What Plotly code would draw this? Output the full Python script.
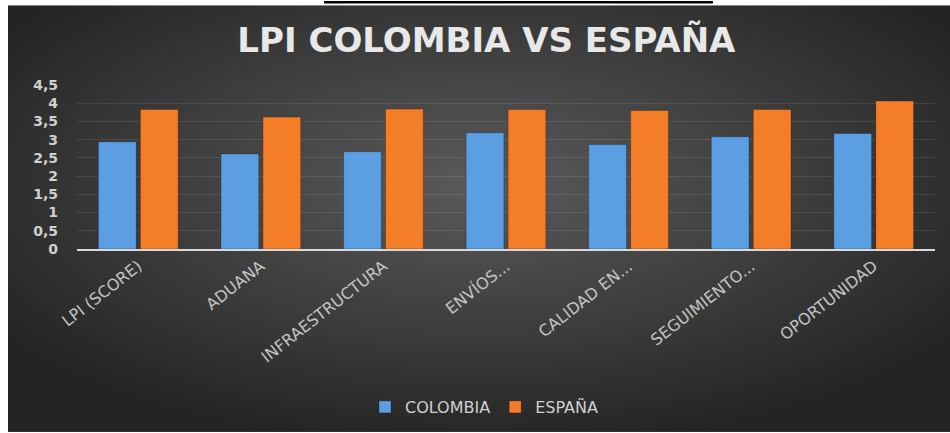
import base64
import plotly.graph_objects as go

categories = ["LPI (SCORE)", "ADUANA", "INFRAESTRUCTURA", "ENVÍOS...",
              "CALIDAD EN...", "SEGUIMIENTO...", "OPORTUNIDAD"]
colombia = [2.94, 2.61, 2.67, 3.19, 2.87, 3.08, 3.17]
espana = [3.83, 3.62, 3.84, 3.83, 3.80, 3.83, 4.06]
y_ticks = [0, 0.5, 1, 1.5, 2, 2.5, 3, 3.5, 4, 4.5]

W, H = 950, 433
L, R, T, B = 77, 15, 85, 183.5
pw, ph = W - L - R, H - T - B

def px_x(p):
    return (p - L) / pw

def px_y(p):
    return (H - B - p) / ph

svg = ('<svg xmlns="http://www.w3.org/2000/svg" width="942" height="428" '
       'preserveAspectRatio="none" viewBox="0 0 942 428">'
       '<defs><radialGradient id="g" cx="0.5" cy="0.42" r="0.62">'
       '<stop offset="0" stop-color="#5a5a5a"/>'
       '<stop offset="0.55" stop-color="#3d3d3d"/>'
       '<stop offset="1" stop-color="#242424"/>'
       '</radialGradient></defs>'
       '<rect width="942" height="428" fill="url(#g)"/></svg>')
src = "data:image/svg+xml;base64," + base64.b64encode(svg.encode()).decode()

fig = go.Figure()
fig.add_trace(go.Bar(name="COLOMBIA", x=categories, y=colombia,
                     marker=dict(color="#5b9fe2", line=dict(color="rgba(0,0,0,0.25)", width=1))))
fig.add_trace(go.Bar(name="ESPAÑA", x=categories, y=espana,
                     marker=dict(color="#f47d27", line=dict(color="rgba(0,0,0,0.25)", width=1))))

fig.update_layout(
    width=W, height=H,
    margin=dict(l=L, r=R, t=T, b=B),
    paper_bgcolor="white",
    plot_bgcolor="rgba(0,0,0,0)",
    barmode="group", bargap=0.315, bargroupgap=0.1,
    separators=", ",
    title=dict(text="LPI COLOMBIA VS ESPAÑA", x=0.512, xanchor="center",
               xref="container", yref="container", y=1 - 40 / H, yanchor="middle",
               font=dict(family="DejaVu Sans", size=34, color="#e8e8e8", weight="bold")),
    showlegend=True,
    legend=dict(orientation="h", xref="container", yref="container",
                x=0.51, xanchor="center", y=1 - 407 / H, yanchor="middle",
                font=dict(family="DejaVu Sans", size=16, color="#d0d0d0"),
                bgcolor="rgba(0,0,0,0)", itemwidth=30),
    images=[dict(source=src, xref="paper", yref="paper",
                 x=px_x(8), y=px_y(5), sizex=(W - 8) / pw, sizey=(H - 5) / ph,
                 xanchor="left", yanchor="top", sizing="stretch", layer="below")],
    shapes=[dict(type="line", xref="paper", yref="paper",
                 x0=px_x(324), x1=px_x(713), y0=px_y(2), y1=px_y(2),
                 line=dict(color="black", width=2.5))],
)
fig.update_yaxes(range=[0, 4.5], tickvals=y_ticks,
                 tickfont=dict(family="DejaVu Sans", size=14, color="#d0d0d0", weight="bold"),
                 gridcolor="rgba(255,255,255,0.10)", gridwidth=1,
                 zeroline=False, showline=False, ticks="", ticklabelstandoff=18)
fig.update_xaxes(tickangle=-38,
                 tickfont=dict(family="DejaVu Sans", size=16, color="#c4c4c4"),
                 showline=True, linecolor="#d9d9d9", linewidth=1.5,
                 showgrid=False, ticks="")

fig.write_html("out.html", config={"displayModeBar": False},
               post_script="document.body.style.margin='0';document.body.style.overflow='hidden';")
